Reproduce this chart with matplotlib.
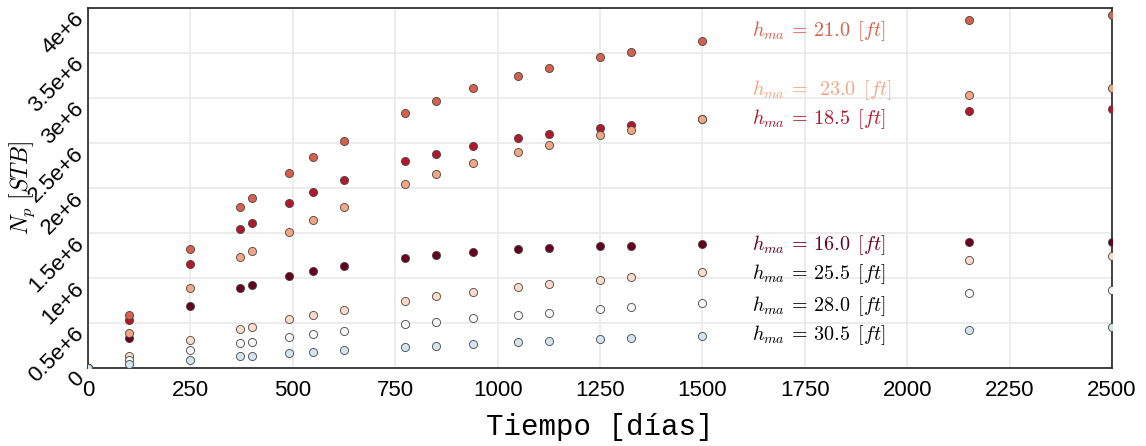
import numpy as np
import matplotlib
matplotlib.use("Agg")
import matplotlib.pyplot as plt

plt.rcParams['mathtext.fontset'] = 'cm'

# tiempo en dias
tiempo = [0, 100, 250, 370, 400, 490, 550, 625, 775, 850, 940, 1050, 1125, 1250, 1325, 1500, 2150, 2500]

# produccion acumulada Np [STB] por espesor h_ma
np_160 = [0, 0.333e6, 0.689e6, 0.885e6, 0.922e6, 1.026e6, 1.081e6, 1.137e6, 1.226e6, 1.259e6,
          1.289e6, 1.319e6, 1.333e6, 1.352e6, 1.359e6, 1.374e6, 1.396e6, 1.396e6]
np_185 = [0, 0.533e6, 1.159e6, 1.541e6, 1.615e6, 1.830e6, 1.952e6, 2.085e6, 2.296e6, 2.381e6,
          2.470e6, 2.552e6, 2.600e6, 2.667e6, 2.700e6, 2.763e6, 2.856e6, 2.874e6]
np_210 = [0, 0.592e6, 1.319e6, 1.793e6, 1.893e6, 2.170e6, 2.341e6, 2.526e6, 2.837e6, 2.970e6,
          3.107e6, 3.248e6, 3.333e6, 3.456e6, 3.511e6, 3.633e6, 3.867e6, 3.926e6]
np_230 = [0, 0.393e6, 0.892e6, 1.233e6, 1.304e6, 1.515e6, 1.641e6, 1.789e6, 2.044e6, 2.152e6,
          2.274e6, 2.400e6, 2.474e6, 2.589e6, 2.648e6, 2.770e6, 3.033e6, 3.107e6]
np_255 = [0, 0.137e6, 0.311e6, 0.437e6, 0.459e6, 0.541e6, 0.593e6, 0.648e6, 0.748e6, 0.796e6,
          0.841e6, 0.900e6, 0.930e6, 0.981e6, 1.007e6, 1.067e6, 1.200e6, 1.244e6]
np_280 = [0, 0.085e6, 0.196e6, 0.274e6, 0.289e6, 0.344e6, 0.374e6, 0.411e6, 0.489e6, 0.515e6,
          0.552e6, 0.593e6, 0.615e6, 0.652e6, 0.674e6, 0.719e6, 0.830e6, 0.870e6]
np_305 = [0, 0.041e6, 0.089e6, 0.133e6, 0.137e6, 0.163e6, 0.181e6, 0.200e6, 0.233e6, 0.248e6,
          0.267e6, 0.289e6, 0.300e6, 0.322e6, 0.333e6, 0.359e6, 0.422e6, 0.452e6]

espesores = [16.0, 18.5, 21.0, 23.0, 25.5, 28.0, 30.5]
series = [np_160, np_185, np_210, np_230, np_255, np_280, np_305]
colores = ['#67001f', '#b2182b', '#d6604d', '#f4a582', '#fddbc7', '#f7f7f7', '#d1e5f0']
colores_texto = ['#67001f', '#b2182b', '#d6604d', '#f4a582', 'black', 'black', 'black']
# posicion vertical de cada etiqueta
y_texto = [1.37e6, 2.76e6, 3.74e6, 3.09e6, 1.04e6, 0.69e6, 0.36e6]

y_ticks = [0, 0.5e6, 1e6, 1.5e6, 2e6, 2.5e6, 3e6, 3.5e6, 4e6]
y_ticklabels = ['0', '0.5e+6', '1e+6', '1.5e+6', '2e+6', '2.5e+6', '3e+6', '3.5e+6', '4e+6']
x_ticks = [0, 250, 500, 750, 1000, 1250, 1500, 1750, 2000, 2250, 2500]

fig = plt.figure(figsize=(11.46, 4.46), dpi=100)
ax = fig.add_axes([88 / 1146, 1 - 368 / 446, 1024 / 1146, 360 / 446])

for h, y, c, ct, yt in zip(espesores, series, colores, colores_texto, y_texto):
    ax.scatter(tiempo, y, s=34, color=c, edgecolors='#444444', linewidths=0.6, zorder=3)
    sep = r'\ ' if h == 23.0 else ''
    ax.text(1620, yt, r'$h_{ma}\,=\,%s%.1f\ \,[ft]$' % (sep, h), color=ct,
            fontsize=14.5, va='center', ha='left', zorder=4)

ax.set_xlim(0, 2500)
ax.set_ylim(0, 4e6)
ax.set_xticks(x_ticks)
ax.set_xticklabels([str(t) for t in x_ticks], fontfamily='Liberation Sans', fontsize=16)
ax.set_yticks(y_ticks)
ax.set_yticklabels(y_ticklabels, fontfamily='Liberation Sans', fontsize=16,
                   rotation=45, ha='right', va='top')
ax.tick_params(axis='x', length=0, pad=9)
ax.tick_params(axis='y', length=0, pad=0)
ax.grid(True, color='#ebebeb', linewidth=1.3, zorder=0)
ax.set_axisbelow(True)
for s in ax.spines.values():
    s.set_linewidth(1.2)
    s.set_color('#222222')

ax.set_xlabel('Tiempo [días]', fontfamily='Liberation Mono', fontsize=21, labelpad=8)
ax.set_ylabel(r'$N_p\ [STB]$', fontsize=17)
ax.yaxis.set_label_coords(-0.05, 0.5)

fig.savefig('out.png', dpi=100)
